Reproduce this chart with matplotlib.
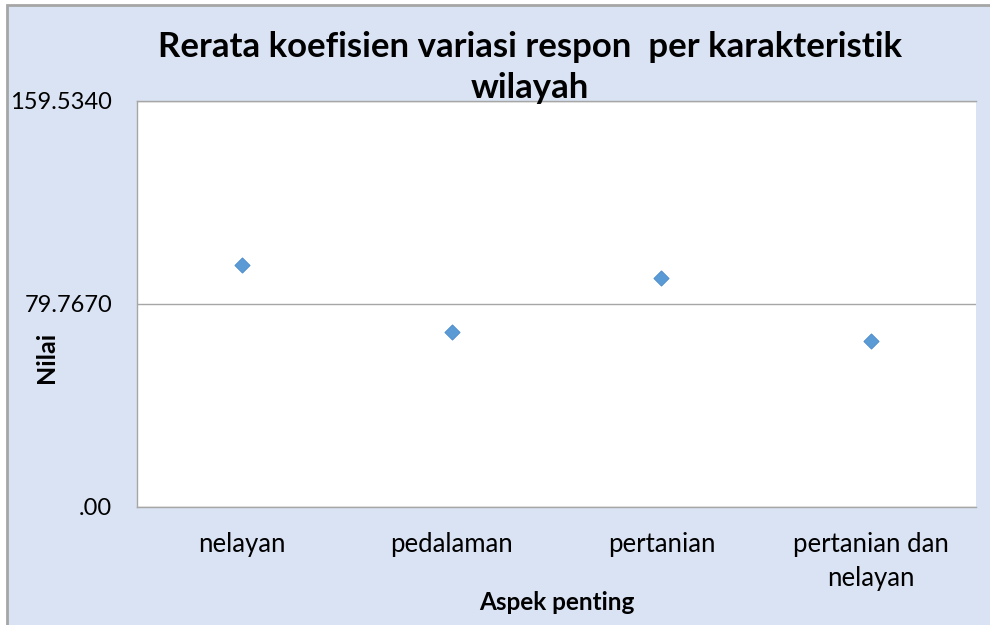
import matplotlib
matplotlib.use("Agg")
import matplotlib.pyplot as plt
from matplotlib.patches import Rectangle

categories = ["nelayan", "pedalaman", "pertanian", "pertanian dan\nnelayan"]
values = [94.86, 68.53, 89.98, 65.11]
y_ticks = [0.0, 79.767, 159.534]
y_tick_labels = [".00", "79.7670", "159.5340"]

W, H = 990, 625
plt.rcParams['font.family'] = ['Lato', 'DejaVu Sans']
fig = plt.figure(figsize=(W/100, H/100), dpi=100, facecolor='white')

bg = '#DAE3F3'
fig.patches.append(Rectangle((7/W, -0.01), 1, 1.01 - 5/H, transform=fig.transFigure,
                             facecolor=bg, edgecolor='#A6A6A6', linewidth=2.0, zorder=-10))

l, r, t, b = 137, 976, 100.5, 506.5
ax = fig.add_axes([l/W, 1 - b/H, (r-l)/W, (b-t)/H])
ax.set_zorder(5)
ax.set_facecolor('white')
x = range(len(categories))
ax.scatter(x, values, marker='D', s=60, color='#5B9BD5', edgecolor='#4A8ACB', linewidth=0.6, zorder=3)
ax.set_xlim(-0.5, len(categories) - 0.5)
ax.set_ylim(y_ticks[0], y_ticks[-1])
ax.set_yticks(y_ticks)
ax.set_yticklabels(y_tick_labels, fontsize=17)
ax.set_xticks(list(x))
ax.set_xticklabels(categories, fontsize=18.5, linespacing=1.42)
ax.tick_params(axis='y', length=0, pad=18)
ax.tick_params(axis='x', length=0, pad=18.5)
ax.grid(axis='y', color='#A6A6A6', linewidth=1.0)
ax.set_axisbelow(True)
for s in ax.spines.values():
    s.set_color('#A6A6A6')
    s.set_linewidth(1.0)
ax.spines['right'].set_visible(False)

fig.text(47/W, 1 - 357/H, "Nilai", rotation=90, ha='center', va='center',
         fontsize=18, fontweight='bold')
fig.text(557/W, 1 - 603/H, "Aspek penting", ha='center', va='center',
         fontsize=17.5, fontweight='bold')

fig.text(530/W, 1 - 67.5/H, "Rerata koefisien variasi respon  per karakteristik\nwilayah",
         ha='center', va='center', fontsize=25, fontweight='bold', linespacing=1.33, zorder=10)

fig.savefig("out.png", dpi=100, facecolor='white')
